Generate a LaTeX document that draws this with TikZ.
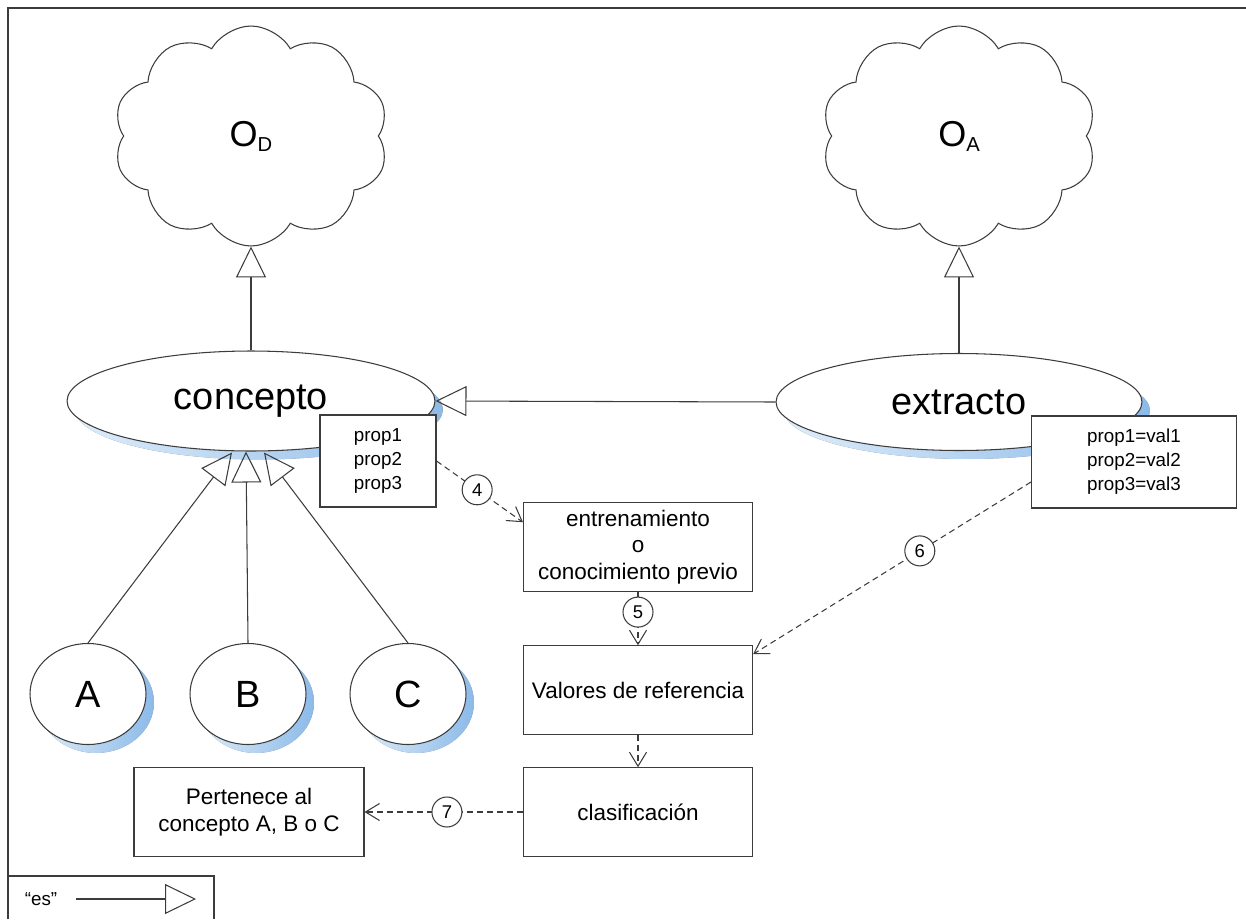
\documentclass[tikz,border=0pt]{standalone}
\usepackage{fontspec}
\setmainfont{Liberation Sans}
\usetikzlibrary{arrows.meta, shapes.geometric, shapes.symbols, shadows, calc}

\definecolor{shadowblue}{RGB}{140,186,232}
\definecolor{shadowlight}{RGB}{222,236,250}
\definecolor{linegray}{RGB}{60,60,60}

\begin{document}
\begin{tikzpicture}[x=0.02cm, y=-0.02cm, font=\fontsize{12.8}{15.2}\selectfont]
        % Setup the styles for the shapes and the arrows
        \tikzset{cloud style/.style={cloud, cloud puffs=10, cloud puff arc=120,
                                     aspect=1.26, draw=linegray, fill=white,
                                     line width=0.6pt, inner sep=0pt,
                                     minimum width=5.5cm, minimum height=4.4cm,
                                     font=\fontsize{20.5}{22}\selectfont},
                 class style/.style={ellipse, draw=linegray, fill=white,
                                     line width=0.6pt, inner sep=0pt,
                                     font=\fontsize{21.6}{24}\selectfont,
                                     drop shadow={shadow xshift=0.16cm,
                                                  shadow yshift=-0.17cm,
                                                  left color=shadowlight,
                                                  right color=shadowblue,
                                                  opacity=1}},
                 box style/.style={rectangle, draw=linegray, fill=white,
                                   line width=0.6pt, align=center, inner sep=0pt,
                                   minimum width=4.58cm, minimum height=1.77cm},
                 prop style/.style={box style, minimum height=1.84cm,
                                    font=\fontsize{10.7}{13.6}\selectfont},
                 step label/.style={circle, draw=linegray, fill=white, solid,
                                    inner sep=0pt, minimum size=0.6cm,
                                    font=\fontsize{10.5}{12}\selectfont},
                 isa/.style={draw=linegray, line width=0.6pt,
                             -{Triangle[open, length=0.62cm, width=0.6cm]}},
                 flow/.style={draw=linegray, line width=0.6pt,
                              dash pattern=on 3.4pt off 2.3pt,
                              -{Straight Barb[length=0.28cm, width=0.34cm]}}}

        \useasboundingbox (0,0) rectangle (1246,919);

        % Draw the frame
        \draw[linegray, line width=0.7pt] (8,919) -- (8,8) -- (1246,8);

        % Draw the ontologies
        \node[cloud style] at (251, 136) (cloudD) {O\raisebox{-0.1cm}{\fontsize{11.5}{12}\selectfont D}};
        \node[cloud style] at (959, 136) (cloudA) {O\raisebox{-0.1cm}{\fontsize{11.5}{12}\selectfont A}};

        % Draw the classes
        \node[class style, minimum width=7.36cm, minimum height=2cm]
            at (251, 401) (concepto) {concepto};
        \node[class style, minimum width=7.32cm, minimum height=1.94cm]
            at (959, 402) (extracto) {extracto};
        \node[class style, minimum width=2.32cm, minimum height=2.02cm]
            at (88, 694) (A) {A};
        \node[class style, minimum width=2.32cm, minimum height=2.02cm]
            at (248, 694) (B) {B};
        \node[class style, minimum width=2.32cm, minimum height=2.02cm]
            at (408, 694) (C) {C};

        % Draw the property boxes
        \node[prop style, minimum width=2.32cm] at (378, 461) (propsC)
            {prop1\\prop2\\prop3};
        \node[prop style, minimum width=4.1cm] at (1134, 462) (propsE)
            {prop1=val1\\prop2=val2\\prop3=val3};

        % Draw the process boxes
        \node[box style] at (638, 547) (train)
            {entrenamiento\\o\\conocimiento previo};
        \node[box style] at (638, 690) (ref) {Valores de referencia};
        \node[box style] at (638, 812) (classify) {clasificación};
        \node[box style, minimum width=4.6cm] at (249, 812) (result)
            {Pertenece al\\concepto A, B o C};

        % Connect the classes with "es" arrows
        \path[every edge/.style={isa}]
            (concepto.north) edge (cloudD.south)
            (extracto.north) edge (cloudA.south)
            (extracto.west)  edge (concepto.east)
            (A.north) edge ($(concepto.south)+(-19,1)$)
            (B.north) edge ($(concepto.south)+(-5,0)$)
            (C.north) edge ($(concepto.south)+(13,1)$);

        % Connect the steps with dashed arrows
        \path[every edge/.style={flow}]
            (propsC.east) edge node[step label, pos=0.47] {4}
                ($(train.north west)+(0,20)$)
            (train.south) edge node[step label, pos=0.38] {5} (ref.north)
            ($(propsE.west)+(0,20)$) edge node[step label, pos=0.4] {6}
                ($(ref.north east)+(0,9)$)
            (ref.south) edge (classify.north)
            (classify.west) edge node[step label, pos=0.48] {7} (result.east);

        % Draw the legend
        \draw[linegray, line width=0.6pt] (8,919) |- (214,876) -- (214,919);
        \node[font=\fontsize{10.7}{12}\selectfont] at (41, 899) (es) {“es”};
        \coordinate (es start) at (76, 899);
        \coordinate (es end) at (196, 899);
        \draw[isa] (es start) -- (es end);
\end{tikzpicture}
\end{document}
